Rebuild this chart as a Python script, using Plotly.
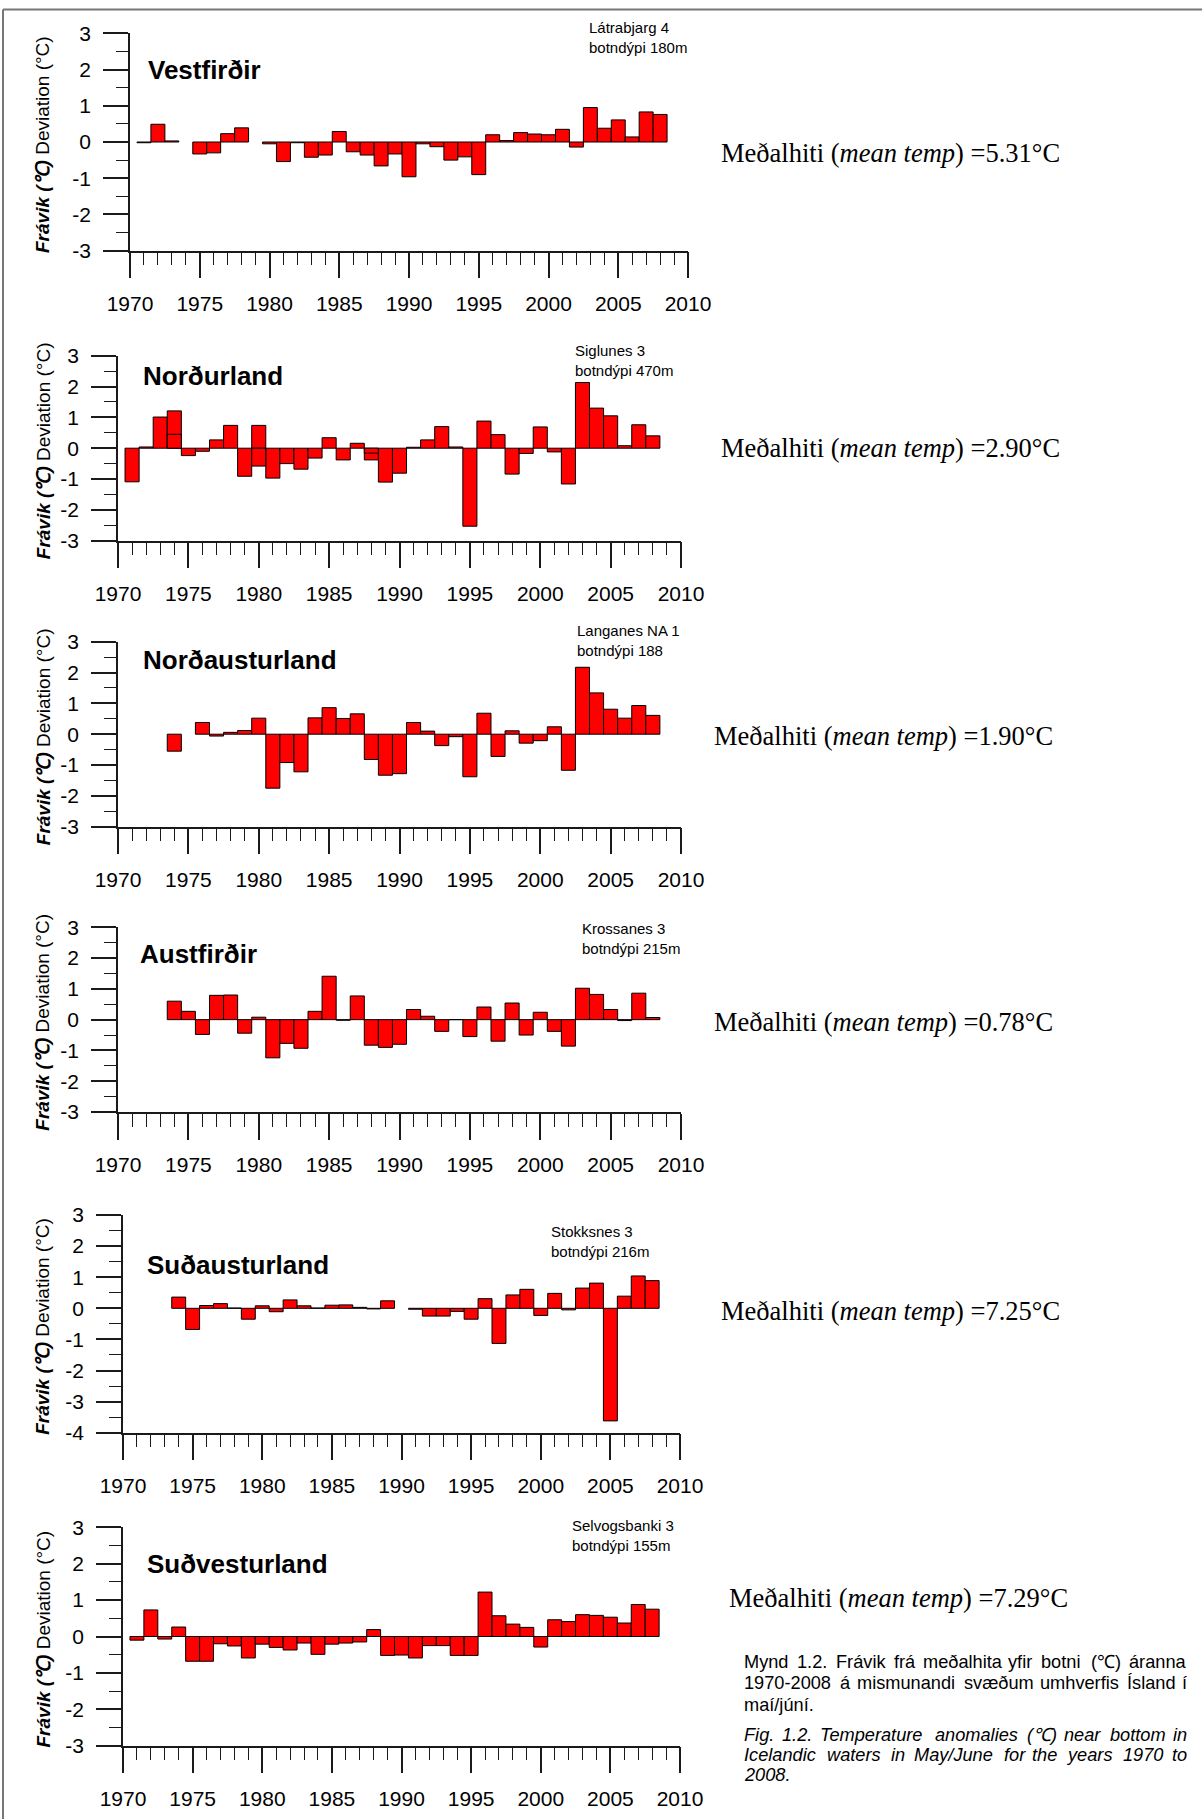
import plotly.graph_objects as go

W, H = 1202, 1819

# ---------------- data ----------------
years = list(range(1971, 2009))

vestfirdir = [-0.02, 0.49, 0.03, None, -0.33, -0.30, 0.23, 0.39, None, -0.05,
              -0.54, -0.02, -0.42, -0.36, 0.29, -0.27, -0.36, -0.66, -0.33, -0.96,
              -0.05, -0.13, -0.50, -0.41, -0.90, 0.20, 0.04, 0.26, 0.22, 0.20,
              0.35, -0.14, 0.95, 0.38, 0.61, 0.14, 0.83, 0.76]

nordurland = [-1.09, 0.04, 1.01, 1.21, -0.24, -0.10, 0.27, 0.74, -0.91, 0.74,
              -0.97, -0.50, -0.68, -0.32, 0.34, -0.38, 0.16, -0.38, -1.10, -0.81,
              0.03, 0.27, 0.70, 0.04, -2.53, 0.88, 0.44, -0.84, -0.17, 0.69,
              -0.12, -1.16, 2.13, 1.30, 1.05, 0.08, 0.76, 0.40]
# second (overlapping) measurements drawn on top in Norðurland
nordurland_extra_years = [1974, 1980, 1988]
nordurland_extra = [0.45, -0.58, -0.16]

nordausturland = [None, None, None, -0.55, None, 0.38, -0.06, 0.06, 0.12, 0.52,
                  -1.75, -0.92, -1.22, 0.53, 0.86, 0.51, 0.66, -0.82, -1.33, -1.28,
                  0.38, 0.10, -0.37, -0.08, -1.38, 0.68, -0.72, 0.11, -0.29, -0.21,
                  0.24, -1.17, 2.17, 1.34, 0.81, 0.52, 0.93, 0.61]

austfirdir = [None, None, None, 0.60, 0.27, -0.48, 0.79, 0.80, -0.44, 0.08,
              -1.24, -0.77, -0.93, 0.27, 1.41, -0.02, 0.77, -0.83, -0.90, -0.80,
              0.33, 0.11, -0.38, 0.00, -0.55, 0.41, -0.70, 0.54, -0.50, 0.24,
              -0.38, -0.86, 1.02, 0.82, 0.33, -0.03, 0.86, 0.07]

sudausturland = [None, None, None, 0.36, -0.68, 0.09, 0.15, 0.01, -0.35, 0.08,
                 -0.11, 0.27, 0.08, 0.01, 0.10, 0.11, 0.03, -0.02, 0.24, None,
                 -0.03, -0.25, -0.25, -0.10, -0.35, 0.31, -1.13, 0.43, 0.61, -0.23,
                 0.48, -0.05, 0.65, 0.81, -3.62, 0.39, 1.04, 0.89]

sudvesturland = [-0.10, 0.73, -0.07, 0.26, -0.68, -0.68, -0.20, -0.26, -0.59, -0.21,
                 -0.30, -0.37, -0.18, -0.49, -0.21, -0.18, -0.15, 0.19, -0.52, -0.51,
                 -0.59, -0.25, -0.25, -0.52, -0.52, 1.22, 0.57, 0.34, 0.25, -0.29,
                 0.46, 0.41, 0.60, 0.58, 0.53, 0.37, 0.88, 0.75]

region_names = ["Vestfirðir", "Norðurland", "Norðausturland", "Austfirðir",
                "Suðausturland", "Suðvesturland"]
station_names = ["Látrabjarg 4", "Siglunes 3", "Langanes NA 1", "Krossanes 3",
                 "Stokksnes 3", "Selvogsbanki 3"]
depth_labels = ["botndýpi 180m", "botndýpi 470m", "botndýpi 188", "botndýpi 215m",
                "botndýpi 216m", "botndýpi 155m"]
mean_temps = ["5.31", "2.90", "1.90", "0.78", "7.25", "7.29"]
series = [vestfirdir, nordurland, nordausturland, austfirdir, sudausturland, sudvesturland]

x_tick_vals = [1970, 1975, 1980, 1985, 1990, 1995, 2000, 2005, 2010]
x_tick_text = ["1970", "1975", "1980", "1985", "1990", "1995", "2000", "2005", "2010"]
y_tick_vals = [-4, -3, -2, -1, 0, 1, 2, 3]
y_tick_text = ["-4", "-3", "-2", "-1", "0", "1", "2", "3"]
y_mins = [-3, -3, -3, -3, -4, -3]

caption_is = ["Mynd 1.2. Frávik frá meðalhita yfir botni (℃) áranna",
              "1970-2008 á mismunandi svæðum umhverfis Ísland í",
              "maí/júní."]
caption_en = ["Fig. 1.2. Temperature anomalies (℃) near bottom in",
              "Icelandic waters in May/June for the years 1970 to",
              "2008."]

# ---------------- layout (pixel positions) ----------------
axis_px = [  # x0, x1, ytop, ybottom
    (130, 688, 33.3, 250.7),
    (118, 681, 355.7, 540.7),
    (118, 681, 641.7, 826.7),
    (118, 681, 927.3, 1112.0),
    (123, 680, 1215.0, 1432.7),
    (123, 680, 1527.3, 1745.7),
]
title_px = [(146, 70), (141, 376), (141, 660), (138, 954), (145, 1265), (145, 1564)]
station_px = [(587, 37), (573, 360), (575, 640), (580, 938), (549, 1241), (570, 1535)]
mean_px = [(719, 153), (719, 448), (712, 736), (712, 1022), (719, 1311), (727, 1598)]
CAP_X0, CAP_X1 = 742, 1189


def px(x):
    return x / W


def py(y):
    return 1 - y / H


SANS = "Liberation Sans, Arial, Helvetica, sans-serif"
SERIF = "Liberation Serif, Times New Roman, serif"
AX = "#1a1a1a"
TICK_SIZE = 21

# approximate Arial advance widths (em/1000) used to justify the caption
_W = {" ": 278, "(": 333, ")": 333, "-": 333, ".": 278, "/": 278, "℃": 1150}
for c in "0123456789":
    _W[c] = 556
_W.update(dict(zip("ABCDEFGHIJKLMNOPQRSTUVWXYZ",
                   [667, 667, 722, 722, 667, 611, 778, 722, 278, 500, 667, 556, 833,
                    722, 778, 667, 778, 722, 667, 611, 722, 667, 944, 667, 667, 611])))
_W.update(dict(zip("abcdefghijklmnopqrstuvwxyz",
                   [556, 556, 500, 556, 556, 278, 556, 556, 222, 222, 500, 222, 833,
                    556, 556, 556, 556, 333, 500, 278, 556, 500, 722, 500, 500, 500])))
_W.update({"á": 556, "é": 556, "í": 278, "ú": 556, "ý": 500, "ð": 556, "æ": 889, "Í": 278})


def text_width(s, size):
    return 1.03 * sum(_W.get(c, 556) for c in s) * size / 1000.0


fig = go.Figure()
layout = dict(
    width=W, height=H, autosize=False,
    margin=dict(l=0, r=0, t=0, b=0, pad=0, autoexpand=False),
    paper_bgcolor="white", plot_bgcolor="white",
    barmode="overlay", showlegend=False, font=dict(family=SANS, color="black"),
)
annotations = []

for i in range(6):
    k = i + 1
    xs = "x" if k == 1 else f"x{k}"
    ys = "y" if k == 1 else f"y{k}"
    x0, x1, yt, yb = axis_px[i]
    fig.add_trace(go.Bar(
        x=years, y=series[i], width=1, xaxis=xs, yaxis=ys,
        marker=dict(color="#ff0000", line=dict(color="black", width=1)),
        hoverinfo="x+y",
    ))
    if i == 1:
        fig.add_trace(go.Bar(
            x=nordurland_extra_years, y=nordurland_extra, width=1, xaxis=xs, yaxis=ys,
            marker=dict(color="#ff0000", line=dict(color="black", width=1)),
            hoverinfo="x+y",
        ))
    yv = [v for v in y_tick_vals if v >= y_mins[i]]
    yt_text = [t for v, t in zip(y_tick_vals, y_tick_text) if v >= y_mins[i]]
    layout["xaxis" if k == 1 else f"xaxis{k}"] = dict(
        domain=[px(x0), px(x1)], range=[1970, 2010], anchor=ys,
        tickmode="array", tickvals=x_tick_vals, ticktext=x_tick_text,
        ticks="outside", ticklen=26, tickwidth=1.5, tickcolor=AX,
        showline=True, linecolor=AX, linewidth=1.5, automargin=False,
        showgrid=False, zeroline=False, fixedrange=True,
        tickfont=dict(family=SANS, size=TICK_SIZE, color="black"),
        ticklabelstandoff=7,
        minor=dict(tick0=1970, dtick=1, ticks="outside", ticklen=13,
                   tickwidth=1.2, tickcolor=AX, showgrid=False),
    )
    layout["yaxis" if k == 1 else f"yaxis{k}"] = dict(
        domain=[py(yb), py(yt)], range=[y_mins[i], 3], anchor=xs,
        tickmode="array", tickvals=yv, ticktext=yt_text,
        ticks="outside", ticklen=25, tickwidth=1.5, tickcolor=AX,
        showline=True, linecolor=AX, linewidth=1.5, automargin=False,
        showgrid=False, zeroline=False, fixedrange=True,
        tickfont=dict(family=SANS, size=TICK_SIZE, color="black"),
        ticklabelstandoff=8,
        minor=dict(tick0=0, dtick=0.5, ticks="outside", ticklen=12,
                   tickwidth=1.2, tickcolor=AX, showgrid=False),
    )
    annotations.append(dict(
        xref="paper", yref="paper", x=px(title_px[i][0]), y=py(title_px[i][1]),
        xanchor="left", yanchor="middle", showarrow=False,
        text=f"<b>{region_names[i]}</b>", font=dict(family=SANS, size=26, color="black"),
    ))
    annotations.append(dict(
        xref="paper", yref="paper", x=px(station_px[i][0]), y=py(station_px[i][1]),
        xanchor="left", yanchor="middle", showarrow=False, align="left",
        text=f"{station_names[i]}<br>{depth_labels[i]}",
        font=dict(family=SANS, size=15, color="black"),
    ))
    annotations.append(dict(
        xref="paper", yref="paper", x=px(mean_px[i][0]), y=py(mean_px[i][1]),
        xanchor="left", yanchor="middle", showarrow=False,
        text=f"Meðalhiti (<i>mean temp</i>) ={mean_temps[i]}°C",
        font=dict(family=SERIF, size=26.5, color="black"),
    ))
    annotations.append(dict(
        xref="paper", yref="paper", x=px(43), y=py((yt + yb) / 2 + 3),
        xanchor="center", yanchor="middle", showarrow=False, textangle=-90,
        text="<b><i>Frávik (℃)</i></b> Deviation (°C)",
        font=dict(family=SANS, size=19, color="black"),
    ))

CAP_SIZE = 18.2


def add_caption_line(line, yy, italic, justify):
    fnt = dict(family=SANS, size=CAP_SIZE, color="black")
    wrap = (lambda s: f"<i>{s}</i>") if italic else (lambda s: s)
    words = line.split(" ")
    if not justify or len(words) < 2:
        annotations.append(dict(xref="paper", yref="paper", x=px(CAP_X0), y=py(yy),
                                xanchor="left", yanchor="middle", showarrow=False,
                                text=wrap(line), font=fnt))
        return
    widths = [text_width(w, CAP_SIZE) for w in words]
    n = len(words)
    gap = (CAP_X1 - CAP_X0 - sum(widths)) / (n - 1)
    half = (n + 1) // 2
    # first half anchored from the left edge
    xcur = CAP_X0
    for j in range(half):
        annotations.append(dict(xref="paper", yref="paper", x=px(xcur), y=py(yy),
                                xanchor="left", yanchor="middle", showarrow=False,
                                text=wrap(words[j]), font=fnt))
        xcur += widths[j] + gap
    # second half anchored from the right edge
    xcur = CAP_X1
    for j in range(n - 1, half - 1, -1):
        annotations.append(dict(xref="paper", yref="paper", x=px(xcur), y=py(yy),
                                xanchor="right", yanchor="middle", showarrow=False,
                                text=wrap(words[j]), font=fnt))
        xcur -= widths[j] + gap


cap_y_is = [1661.7, 1683.3, 1705]
cap_y_en = [1735, 1755, 1775]
for j, (t, yy) in enumerate(zip(caption_is, cap_y_is)):
    add_caption_line(t, yy, False, j < 2)
for j, (t, yy) in enumerate(zip(caption_en, cap_y_en)):
    add_caption_line(t, yy, True, j < 2)

layout["annotations"] = annotations
layout["shapes"] = [
    dict(type="line", xref="paper", yref="paper", x0=px(3), x1=1, y0=py(9.5), y1=py(9.5),
         line=dict(color="#777777", width=2)),
    dict(type="line", xref="paper", yref="paper", x0=px(3), x1=px(3), y0=0, y1=py(9.5),
         line=dict(color="#777777", width=2)),
]
fig.update_layout(**layout)
fig.write_html("out.html",
               post_script="document.body.style.margin='0';document.body.style.overflow='hidden';")
